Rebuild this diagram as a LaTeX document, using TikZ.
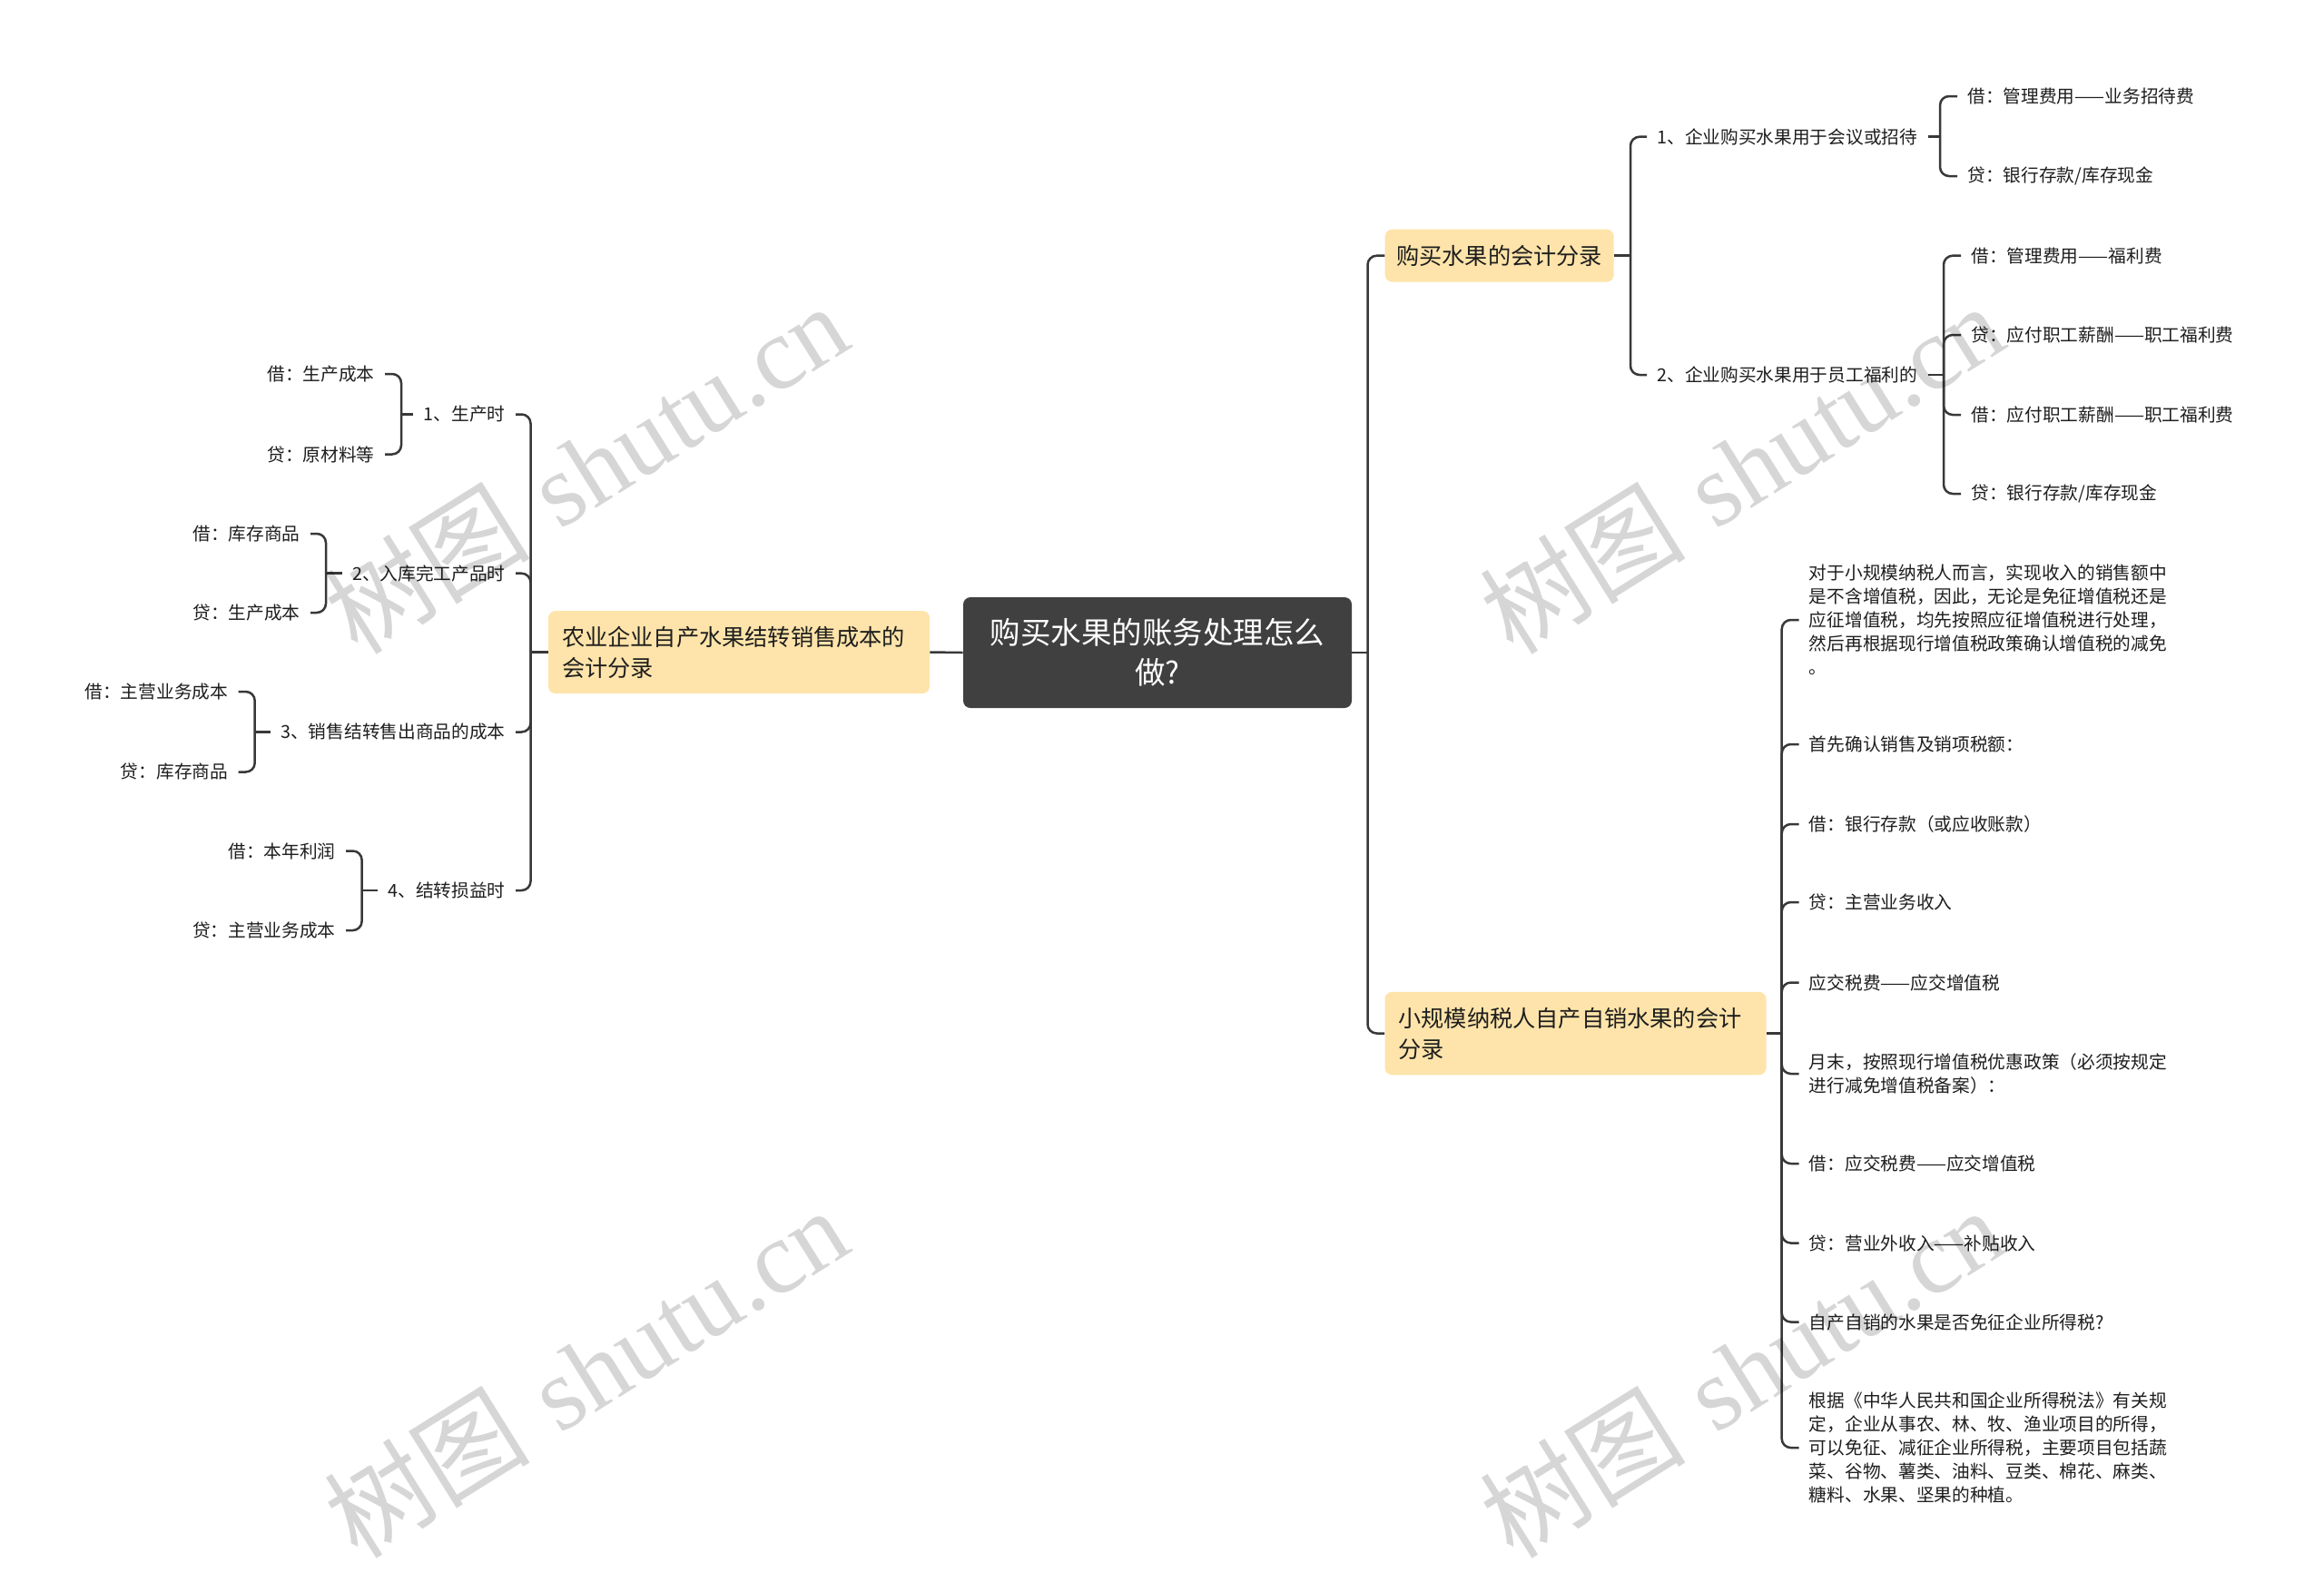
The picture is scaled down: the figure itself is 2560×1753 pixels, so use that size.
\documentclass[tikz,border=0pt]{standalone}
\usepackage{fontspec}
\newfontfamily\cjk{Noto Sans CJK SC}
\newfontfamily\wmserif{Liberation Serif}
\definecolor{linec}{HTML}{383838}
\definecolor{textc}{HTML}{1E1E1E}
\definecolor{yellowc}{RGB}{254,228,170}
\definecolor{rootc}{HTML}{404040}
\tikzset{
  link/.style={draw=linec, line width=1.25pt},
  rc/.style={link, rounded corners=5pt},
  txt/.style={font=\cjk\fontsize{9.85}{13}\selectfont, text=textc, inner xsep=5.5pt, inner ysep=2pt, align=left},
  yb/.style={fill=yellowc, rounded corners=4pt, font=\cjk\fontsize{12.6}{17}\selectfont, text=textc, align=left, inner xsep=7.5pt},
  rootbox/.style={fill=rootc, rounded corners=4pt, font=\cjk\fontsize{16.75}{22}\selectfont, text=white, align=center, minimum width=214pt, minimum height=61pt},
  wm/.style={text=black, text opacity=0.16, rotate=32, font=\fontsize{57}{57}\selectfont}
}
\begin{document}
\begin{tikzpicture}[x=0.5pt,y=-0.5pt]
\fill[white] (0,0) rectangle (2560,1753);
\useasboundingbox (0,0) rectangle (2560,1753);

% main nodes
\node[rootbox] (root) at (1275,719) {购买水果的账务处理怎么\\做?};
\node[yb, text width=195pt, minimum height=45.5pt] (L) at (814,718.5) {农业企业自产水果结转销售成本的\\会计分录};
\node[yb, inner xsep=6pt, minimum width=126pt, minimum height=29pt, align=center] (R1) at (1651.7,281.7) {购买水果的会计分录};
\node[yb, text width=195pt, minimum height=45.75pt] (R2) at (1735.5,1138.5) {小规模纳税人自产自销水果的会计\\分录};

% trunk coordinates
\coordinate (tR) at (1506.5,719);
\coordinate (tL) at (584.5,718.5);
\coordinate (t1) at (1796,281.7);
\coordinate (t2) at (1962.7,1138.5);
\coordinate (k1) at (2137,150.7);
\coordinate (k2) at (2141,413);
\coordinate (B1) at (442,456.5);
\coordinate (B2) at (359,631.7);
\coordinate (B3) at (280.7,806.5);
\coordinate (B4) at (398.6,981);

% left side level 2
\node[txt, anchor=east] (m1) at (568,456.5) {1、生产时};
\node[txt, anchor=east] (m2) at (568,631.7) {2、入库完工产品时};
\node[txt, anchor=east] (m3) at (568,806.5) {3、销售结转售出商品的成本};
\node[txt, anchor=east] (m4) at (568,981) {4、结转损益时};

% left side level 3
\node[txt, anchor=east] (g11) at (424,412) {借：生产成本};
\node[txt, anchor=east] (g12) at (424,500.5) {贷：原材料等};
\node[txt, anchor=east] (g21) at (342,588) {借：库存商品};
\node[txt, anchor=east] (g22) at (342,675) {贷：生产成本};
\node[txt, anchor=east] (g31) at (262.5,762) {借：主营业务成本};
\node[txt, anchor=east] (g32) at (262.5,850.5) {贷：库存商品};
\node[txt, anchor=east] (g41) at (381,937.5) {借：本年利润};
\node[txt, anchor=east] (g42) at (381,1025) {贷：主营业务成本};

% right side, branch 1
\node[txt, anchor=west] (n11) at (1814,150.7) {1、企业购买水果用于会议或招待};
\node[txt, anchor=west] (n12) at (1814,413) {2、企业购买水果用于员工福利的};
\node[txt, anchor=west] (a1) at (2156,106) {借：管理费用——业务招待费};
\node[txt, anchor=west] (a2) at (2156,194) {贷：银行存款/库存现金};
\node[txt, anchor=west] (b1) at (2160,281.7) {借：管理费用——福利费};
\node[txt, anchor=west] (b2) at (2160,369) {贷：应付职工薪酬——职工福利费};
\node[txt, anchor=west] (b3) at (2160,457) {借：应付职工薪酬——职工福利费};
\node[txt, anchor=west] (b4) at (2160,544) {贷：银行存款/库存现金};

% right side, branch 2
\node[txt, anchor=west] (c1) at (1981.5,683) {对于小规模纳税人而言，实现收入的销售额中\\是不含增值税，因此，无论是免征增值税还是\\应征增值税，均先按照应征增值税进行处理，\\然后再根据现行增值税政策确认增值税的减免\\。};
\node[txt, anchor=west] (c2) at (1981.5,820) {首先确认销售及销项税额：};
\node[txt, anchor=west] (c3) at (1981.5,908) {借：银行存款（或应收账款）};
\node[txt, anchor=west] (c4) at (1981.5,994) {贷：主营业务收入};
\node[txt, anchor=west] (c5) at (1981.5,1082.5) {应交税费——应交增值税};
\node[txt, anchor=west] (c6) at (1981.5,1183) {月末，按照现行增值税优惠政策（必须按规定\\进行减免增值税备案）：};
\node[txt, anchor=west] (c7) at (1981.5,1282) {借：应交税费——应交增值税};
\node[txt, anchor=west] (c8) at (1981.5,1369.5) {贷：营业外收入——补贴收入};
\node[txt, anchor=west] (c9) at (1981.5,1456.5) {自产自销的水果是否免征企业所得税?};
\node[txt, anchor=west] (c10) at (1981.5,1595) {根据《中华人民共和国企业所得税法》有关规\\定，企业从事农、林、牧、渔业项目的所得，\\可以免征、减征企业所得税，主要项目包括蔬\\菜、谷物、薯类、油料、豆类、棉花、麻类、\\糖料、水果、坚果的种植。};

% connectors: root
\draw[link] (root.west) -- (L.east);
\draw[link] (root.east) -- (tR);
\draw[rc] (R1.west) -| (tR) |- (R2.west);

% left trunk
\draw[link] (L.west) -- (tL);
\draw[rc] (m1.east) -| (tL) |- (m4.east);
\draw[rc] (m2.east) -| (tL);
\draw[rc] (m3.east) -| (tL);

% left brackets
\draw[link] (m1.west) -- (B1);
\draw[rc] (g11.east) -| (B1) |- (g12.east);
\draw[link] (m2.west) -- (B2);
\draw[rc] (g21.east) -| (B2) |- (g22.east);
\draw[link] (m3.west) -- (B3);
\draw[rc] (g31.east) -| (B3) |- (g32.east);
\draw[link] (m4.west) -- (B4);
\draw[rc] (g41.east) -| (B4) |- (g42.east);

% right branch 1
\draw[link] (R1.east) -- (t1);
\draw[rc] (n11.west) -| (t1) |- (n12.west);
\draw[link] (n11.east) -- (k1);
\draw[rc] (a1.west) -| (k1) |- (a2.west);
\draw[link] (n12.east) -- (k2);
\draw[rc] (b1.west) -| (k2) |- (b4.west);
\draw[rc] (b2.west) -| (k2);
\draw[rc] (b3.west) -| (k2);

% right branch 2
\draw[link] (R2.east) -- (t2);
\draw[rc] (c1.west) -| (t2) |- (c10.west);
\foreach \c in {c2,c3,c4,c5,c6,c7,c8,c9} {\draw[rc] (\c.west) -| (t2);}

% watermarks
\foreach \p/\n in {{(645,516)}/w1,{(645,1512)}/w2,{(1918,516)}/w3,{(1918,1512)}/w4} {
  \node[wm] (\n) at \p {{\cjk 树图} {\wmserif shutu.cn}};
}
\end{tikzpicture}
\end{document}
